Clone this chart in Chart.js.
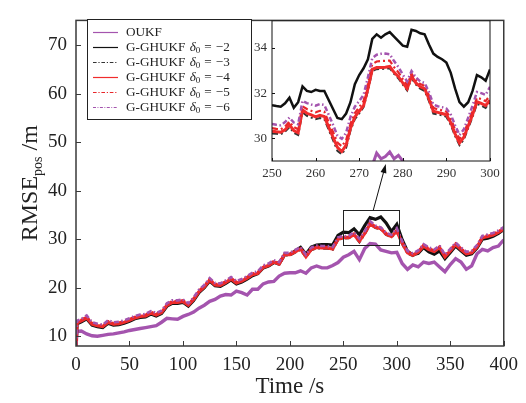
<!DOCTYPE html>
<html><head><meta charset="utf-8">
<script src="https://cdn.jsdelivr.net/npm/chart.js@4/dist/chart.umd.min.js"></script>
<style>
html,body{margin:0;padding:0;background:#fff;}
#wrap{position:relative;width:526px;height:403px;overflow:hidden;}
#main{position:absolute;left:0;top:0;}
#inset{position:absolute;left:240px;top:8px;}
</style></head><body>
<div id="wrap"><canvas id="main" width="526" height="403"></canvas><canvas id="inset" width="270" height="210"></canvas></div>
<script>
// ---------------- data ----------------
const mainTime = [0,1,5,10,15,20,25,30,35,40,45,50,55,60,65,70,75,80,85,90,95,100,105,110,115,120,125,130,135,140,145,150,155,160,165,170,175,180,185,190,195,200,205,210,215,220,225,230,235,240,245,250,255,260,265,270,275,280,285,290,295,300,305,310,315,320,325,330,335,340,345,350,355,360,365,370,375,380,385,390,395,400];
const oukfMain = [8.0,11.0,11.1,10.5,10.1,10.0,10.2,10.4,10.5,10.7,10.9,11.2,11.4,11.6,11.8,12.0,12.2,12.9,13.7,13.6,13.5,14.1,14.5,15.0,15.8,16.4,17.2,17.6,18.3,18.6,18.5,19.3,19.0,18.5,19.7,19.7,20.8,21.2,21.3,22.4,23.0,23.1,23.1,23.5,23.0,24.1,24.5,24.1,24.1,24.6,25.2,26.3,26.8,27.5,25.8,28.1,29.1,29.0,27.8,27.5,27.2,27.3,25.0,23.8,24.7,24.3,25.3,25.0,25.3,24.3,23.3,24.8,26.0,25.3,23.8,24.5,27.0,27.9,27.6,28.3,28.6,29.9];
const d2Main = [8.0,12.6,13.0,13.6,12.3,12.0,11.8,12.7,12.3,12.4,12.7,13.1,13.6,13.9,14.0,14.6,14.2,14.7,16.2,16.8,16.8,17.0,16.2,17.4,19.0,20.0,21.4,20.4,20.3,20.9,21.6,20.8,21.2,21.8,22.5,22.9,24.1,24.5,25.2,24.9,26.8,26.9,27.6,28.3,26.9,28.4,28.8,28.9,28.9,28.8,30.8,31.47,31.35,32.15,30.9,32.8,34.45,34.1,34.6,33.35,31.6,33.05,29.9,27.5,26.8,27.1,28.3,27.4,26.9,27.6,26.0,27.3,28.6,27.6,26.7,27.0,28.2,30.0,30.2,30.6,31.2,32.0];
const d3Main = [8.0,12.7,13.1,13.7,12.4,12.1,11.9,12.8,12.4,12.5,12.8,13.2,13.7,14.0,14.1,14.7,14.3,14.8,16.3,16.9,16.9,17.1,16.3,17.5,19.1,20.1,21.5,20.5,20.4,21.0,21.7,20.9,21.3,21.9,22.6,22.9,24.1,24.5,25.2,24.8,26.7,26.7,27.3,27.9,26.3,27.8,28.2,28.1,28.1,27.9,29.9,30.22,30.25,30.85,29.45,31.1,33.07,32.38,32.1,30.95,30.45,31.6,29.1,27.1,26.6,27.2,28.5,27.8,27.4,28.2,26.3,27.5,28.8,27.8,26.9,27.1,28.3,30.2,30.5,30.8,31.3,32.0];
const d4Main = [8.0,12.8,13.2,13.8,12.5,12.2,12.0,12.9,12.5,12.6,12.9,13.3,13.8,14.1,14.2,14.8,14.4,14.9,16.4,17.0,17.0,17.2,16.4,17.6,19.2,20.2,21.6,20.6,20.5,21.1,21.8,21.0,21.4,22.0,22.7,23.0,24.2,24.6,25.3,24.9,26.8,26.8,27.4,28.0,26.4,27.9,28.3,28.2,28.2,28.0,30.0,30.32,30.35,30.95,29.6,31.2,33.13,32.45,32.2,31.04,30.55,31.69,29.2,27.2,26.7,27.3,28.6,27.9,27.5,28.3,26.4,27.6,28.9,27.9,27.0,27.2,28.4,30.3,30.6,30.9,31.4,32.1];
const d5Main = [8.0,12.9,13.4,14.0,12.7,12.4,12.2,13.1,12.7,12.8,13.1,13.5,14.0,14.3,14.4,15.0,14.6,15.1,16.6,17.2,17.2,17.4,16.6,17.8,19.4,20.4,21.8,20.8,20.7,21.3,22.0,21.2,21.6,22.2,22.9,23.2,24.4,24.8,25.5,25.1,27.0,27.0,27.6,28.2,26.6,28.1,28.5,28.4,28.4,28.2,30.2,30.45,30.5,31.15,29.82,31.38,33.42,32.62,32.32,31.18,30.72,31.9,29.4,27.4,26.9,27.5,28.8,28.1,27.7,28.5,26.6,27.8,29.1,28.1,27.2,27.4,28.6,30.5,30.8,31.1,31.6,32.3];
const d6Main = [8.0,13.2,13.6,14.3,12.9,12.6,12.4,13.3,12.9,13.0,13.3,13.7,14.2,14.5,14.6,15.2,14.8,15.3,16.8,17.4,17.4,17.6,16.8,18.0,19.6,20.6,22.0,21.0,20.9,21.5,22.2,21.4,21.8,22.4,23.1,23.4,24.6,25.0,25.7,25.3,27.2,27.2,27.8,28.4,26.8,28.3,28.7,28.6,28.6,28.4,30.4,30.64,30.7,31.45,30.12,31.65,33.74,32.82,32.45,31.32,30.92,32.28,29.6,27.6,27.1,27.7,29.0,28.3,27.9,28.7,26.8,28.0,29.3,28.3,27.4,27.6,28.8,30.7,31.0,31.3,31.8,32.5];

const insetTime = [250,251,252,253,254,255,256,257,258,259,260,261,262,263,264,265,266,267,268,269,270,271,272,273,274,275,276,277,278,279,280,281,282,283,284,285,286,287,288,289,290,291,292,293,294,295,296,297,298,299,300];
const oukfInset = [26.3,26.5,26.6,26.5,26.8,26.8,27.1,27.5,27.8,27.7,27.5,27.2,26.8,26.2,25.8,25.8,26.3,27.0,27.5,27.9,28.1,28.3,28.6,28.8,29.35,29.1,29.2,29.4,29.1,29.25,29.0,28.7,28.4,28.2,28.0,27.8,27.6,27.4,27.5,27.6,27.5,27.3,27.2,27.0,27.1,27.2,27.0,27.1,27.3,27.4,27.3];
const d2Inset = [31.47,31.43,31.4,31.55,31.8,31.35,31.6,32.3,32.1,32.05,32.15,32.1,32.1,31.7,31.3,30.9,30.85,31.1,31.6,32.4,32.8,33.1,33.5,34.4,34.6,34.45,34.6,34.7,34.5,34.3,34.1,34.05,34.8,34.75,34.65,34.6,34.15,33.75,33.6,33.5,33.35,32.9,32.2,31.6,31.4,31.6,32.1,32.8,32.7,32.55,33.05];
const d3Inset = [30.22,30.2,30.18,30.3,30.5,30.25,30.15,31.15,31.0,30.92,30.85,30.9,30.85,30.38,29.92,29.45,29.3,29.58,30.35,30.85,31.1,31.38,32.1,32.98,33.06,33.07,33.08,33.1,32.85,32.65,32.38,32.12,32.66,32.38,32.2,32.1,31.65,31.1,31.06,31.02,30.95,30.6,30.1,29.7,29.95,30.45,30.95,31.52,31.45,31.35,31.6];
const d4Inset = [30.32,30.29,30.27,30.38,30.6,30.35,30.25,31.26,31.11,31.04,30.95,31.02,30.97,30.5,30.05,29.6,29.42,29.7,30.45,30.95,31.2,31.45,32.2,33.05,33.13,33.13,33.15,33.18,32.92,32.73,32.45,32.2,32.75,32.45,32.28,32.2,31.75,31.2,31.15,31.1,31.04,30.7,30.2,29.8,30.05,30.55,31.05,31.62,31.55,31.45,31.69];
const d5Inset = [30.45,30.42,30.4,30.52,30.74,30.5,30.4,31.42,31.3,31.22,31.15,31.22,31.18,30.72,30.28,29.82,29.65,29.92,30.65,31.12,31.38,31.65,32.42,33.28,33.4,33.42,33.43,33.44,33.15,32.92,32.62,32.36,32.86,32.58,32.4,32.32,31.9,31.35,31.28,31.24,31.18,30.88,30.4,29.98,30.22,30.72,31.22,31.8,31.74,31.65,31.9];
const d6Inset = [30.64,30.6,30.58,30.72,30.92,30.7,30.62,31.66,31.56,31.5,31.45,31.52,31.48,31.05,30.6,30.12,29.98,30.25,30.95,31.4,31.65,31.92,32.7,33.55,33.7,33.74,33.75,33.72,33.42,33.15,32.82,32.52,32.98,32.7,32.52,32.45,32.05,31.5,31.42,31.38,31.32,31.05,30.58,30.15,30.4,30.92,31.45,32.05,32.0,31.92,32.28];

const mainXTicks = [0,50,100,150,200,250,300,350,400];
const mainYTicks = [10,20,30,40,50,60,70];
const insetXTicks = [250,260,270,280,290,300];
const insetYTicks = [30,32,34];
const legendNames = ['OUKF','G-GHUKF','G-GHUKF','G-GHUKF','G-GHUKF','G-GHUKF'];
const legendDeltas = [null,-2,-3,-4,-5,-6];
const zoomBoxX = [250,302];
const zoomBoxY = [28.8,36.0];

// ---------------- styles ----------------
const SERIF = "'Liberation Serif','Times New Roman',serif";
const PURPLE = '#a454ae', RED = '#f02c2c', BLACK = '#111111';
const seriesStyle = [
  {color:PURPLE, dash:[], wMain:3.4, wInset:3},
  {color:BLACK, dash:[], wMain:3.2, wInset:2.5},
  {color:'#333333', dash:[6,3,2,3], wMain:2.6, wInset:2},
  {color:RED, dash:[], wMain:3.2, wInset:3},
  {color:'#e8262a', dash:[6,3,2,3], wMain:2.6, wInset:2.2},
  {color:PURPLE, dash:[5,2.5,1.5,2.5], wMain:2.6, wInset:2.5}
];
const mainSeries = [oukfMain,d2Main,d3Main,d4Main,d5Main,d6Main];
const insetSeries = [oukfInset,d2Inset,d3Inset,d4Inset,d5Inset,d6Inset];

function pts(xs, ys){ return xs.map((x,i)=>({x:x, y:ys[i]})); }
function labelOf(i){ return legendDeltas[i]===null ? legendNames[i] : legendNames[i]+' \u03b40 = \u2212'+Math.abs(legendDeltas[i]); }

function makeDatasets(xs, series, wKey){
  return series.map((ys,i)=>({
    label: labelOf(i),
    data: pts(xs, ys),
    borderColor: seriesStyle[i].color,
    borderDash: seriesStyle[i].dash,
    borderWidth: seriesStyle[i][wKey],
    pointRadius: 0, tension: 0, fill:false,
    order: 6 - i
  }));
}

const frameTicks = {
  id:'frameTicks',
  afterDatasetsDraw(chart, args, opts){
    const ctx = chart.ctx, a = chart.chartArea, sx = chart.scales.x, sy = chart.scales.y;
    ctx.save();
    ctx.strokeStyle = opts.color; ctx.lineWidth = opts.width;
    ctx.strokeRect(a.left, a.top, a.right-a.left, a.bottom-a.top);
    ctx.lineWidth = 1;
    ctx.beginPath();
    sx.ticks.forEach(t=>{ const x = Math.round(sx.getPixelForValue(t.value))+0.5; ctx.moveTo(x,a.bottom); ctx.lineTo(x,a.bottom-opts.len); });
    sy.ticks.forEach(t=>{ const y = Math.round(sy.getPixelForValue(t.value))+0.5; ctx.moveTo(a.left,y); ctx.lineTo(a.left+opts.len,y); });
    ctx.stroke();
    ctx.restore();
  }
};

const mainExtras = {
  id:'mainExtras',
  afterDraw(chart){
    const ctx = chart.ctx, sx = chart.scales.x, sy = chart.scales.y, a = chart.chartArea;
    ctx.save();
    // zoom box
    const x0 = sx.getPixelForValue(zoomBoxX[0]), x1 = sx.getPixelForValue(zoomBoxX[1]);
    const y0 = sy.getPixelForValue(zoomBoxY[1]), y1 = sy.getPixelForValue(zoomBoxY[0]);
    ctx.strokeStyle = '#222'; ctx.lineWidth = 1;
    ctx.strokeRect(Math.round(x0)+0.5, Math.round(y0)+0.5, Math.round(x1-x0), Math.round(y1-y0));
    // legend
    const lx = 87.5, ly = 19.5, lw = 164, lh = 100;
    ctx.fillStyle = '#fff'; ctx.fillRect(lx, ly, lw, lh);
    ctx.strokeStyle = '#222'; ctx.lineWidth = 1; ctx.strokeRect(lx, ly, lw, lh);
    const F = 13.2;
    chart.data.datasets.forEach((ds,i)=>{
      const y = 32.5 + i*15;
      ctx.strokeStyle = ds.borderColor; ctx.lineWidth = 1.2; ctx.setLineDash(ds.borderDash.map(v=>v*0.6));
      ctx.beginPath(); ctx.moveTo(93, y); ctx.lineTo(118, y); ctx.stroke();
      ctx.setLineDash([]);
      ctx.fillStyle = '#222'; ctx.textBaseline = 'middle'; ctx.textAlign = 'left';
      let x = 126;
      ctx.font = F + 'px ' + SERIF;
      ctx.fillText(legendNames[i], x, y);
      if (legendDeltas[i] !== null){
        x += ctx.measureText(legendNames[i] + ' ').width + 1;
        ctx.font = 'italic ' + F + 'px ' + SERIF;
        ctx.fillText('\u03b4', x, y); x += ctx.measureText('\u03b4').width;
        ctx.font = '9px ' + SERIF;
        ctx.fillText('0', x, y + 3.5); x += ctx.measureText('0').width + 4;
        ctx.font = F + 'px ' + SERIF;
        ctx.fillText('=', x, y); x += ctx.measureText('=').width + 4;
        ctx.fillText('\u2212' + Math.abs(legendDeltas[i]), x, y);
      }
    });
    // y title
    ctx.translate(37, (a.top + a.bottom)/2);
    ctx.rotate(-Math.PI/2);
    ctx.fillStyle = '#222'; ctx.textBaseline = 'alphabetic'; ctx.textAlign = 'left';
    const big = '24px ' + SERIF, small = '14px ' + SERIF;
    ctx.font = big; const w1 = ctx.measureText('RMSE').width, w3 = ctx.measureText(' /m').width;
    ctx.font = small; const w2 = ctx.measureText('pos').width;
    let x = -(w1+w2+w3)/2;
    ctx.font = big; ctx.fillText('RMSE', x, 0); x += w1;
    ctx.font = small; ctx.fillText('pos', x, 5); x += w2;
    ctx.font = big; ctx.fillText(' /m', x, 0);
    ctx.restore();
  }
};

const mainChart = new Chart(document.getElementById('main'), {
  type:'line',
  data:{ datasets: makeDatasets(mainTime, mainSeries, 'wMain') },
  options:{
    responsive:false, animation:false, devicePixelRatio:1,
    layout:{padding:{top:6,right:20,left:0,bottom:0}},
    plugins:{legend:{display:false}, tooltip:{enabled:false}, frameTicks:{color:'#3a3a3a', width:1.5, len:5}},
    scales:{
      x:{type:'linear', min:0, max:400,
        afterBuildTicks:s=>{ s.ticks = mainXTicks.map(v=>({value:v})); },
        afterFit:s=>{ s.height = 57; },
        grid:{display:false, drawTicks:false}, border:{display:false},
        ticks:{font:{family:SERIF,size:19}, color:'#222', padding:8, maxRotation:0, autoSkip:false},
        title:{display:true, text:'Time /s', font:{family:SERIF,size:23}, color:'#222', padding:{top:0,bottom:2}}},
      y:{type:'linear', min:8, max:75.1,
        afterBuildTicks:s=>{ s.ticks = mainYTicks.map(v=>({value:v})); },
        afterFit:s=>{ s.width = 76; },
        grid:{display:false, drawTicks:false}, border:{display:false},
        ticks:{font:{family:SERIF,size:19}, color:'#222', padding:9, autoSkip:false}}
    }
  },
  plugins:[frameTicks, mainExtras]
});

const arrowPlugin = {
  id:'arrowPlugin',
  afterDraw(chart){
    const ctx = chart.ctx, sx = chart.scales.x, a = chart.chartArea;
    const ms = mainChart.scales;
    const sxp = ms.x.getPixelForValue(278) - 240, syp = ms.y.getPixelForValue(zoomBoxY[1]) - 8;
    const ex = sx.getPixelForValue(276.1), ey = a.bottom + 3;
    const ang = Math.atan2(ey - syp, ex - sxp);
    ctx.save();
    ctx.strokeStyle = '#111'; ctx.fillStyle = '#111'; ctx.lineWidth = 1;
    ctx.beginPath(); ctx.moveTo(sxp, syp); ctx.lineTo(ex - 6*Math.cos(ang), ey - 6*Math.sin(ang)); ctx.stroke();
    const L = 9, W = 3;
    ctx.beginPath();
    ctx.moveTo(ex, ey);
    ctx.lineTo(ex - L*Math.cos(ang) + W*Math.sin(ang), ey - L*Math.sin(ang) - W*Math.cos(ang));
    ctx.lineTo(ex - L*Math.cos(ang) - W*Math.sin(ang), ey - L*Math.sin(ang) + W*Math.cos(ang));
    ctx.closePath(); ctx.fill();
    ctx.restore();
  }
};

const insetBg = {
  id:'insetBg',
  beforeDatasetsDraw(chart){
    const a = chart.chartArea, ctx = chart.ctx;
    ctx.save(); ctx.fillStyle = '#fff'; ctx.fillRect(a.left, a.top, a.right-a.left, a.bottom-a.top); ctx.restore();
  }
};

const insetChart = new Chart(document.getElementById('inset'), {
  type:'line',
  data:{ datasets: makeDatasets(insetTime, insetSeries, 'wInset') },
  options:{
    responsive:false, animation:false, devicePixelRatio:1,
    layout:{padding:{top:11,right:20,left:0,bottom:0}},
    plugins:{legend:{display:false}, tooltip:{enabled:false}, frameTicks:{color:'#111', width:1, len:3}},
    scales:{
      x:{type:'linear', min:250, max:300,
        afterBuildTicks:s=>{ s.ticks = insetXTicks.map(v=>({value:v})); },
        afterFit:s=>{ s.height = 57; },
        grid:{display:false, drawTicks:false}, border:{display:false},
        ticks:{font:{family:SERIF,size:13}, color:'#333', padding:5, maxRotation:0, autoSkip:false}},
      y:{type:'linear', min:29, max:35.2,
        afterBuildTicks:s=>{ s.ticks = insetYTicks.map(v=>({value:v})); },
        afterFit:s=>{ s.width = 32; },
        grid:{display:false, drawTicks:false}, border:{display:false},
        ticks:{font:{family:SERIF,size:13}, color:'#333', padding:5, autoSkip:false}}
    }
  },
  plugins:[insetBg, frameTicks, arrowPlugin]
});
</script>
</body></html>
